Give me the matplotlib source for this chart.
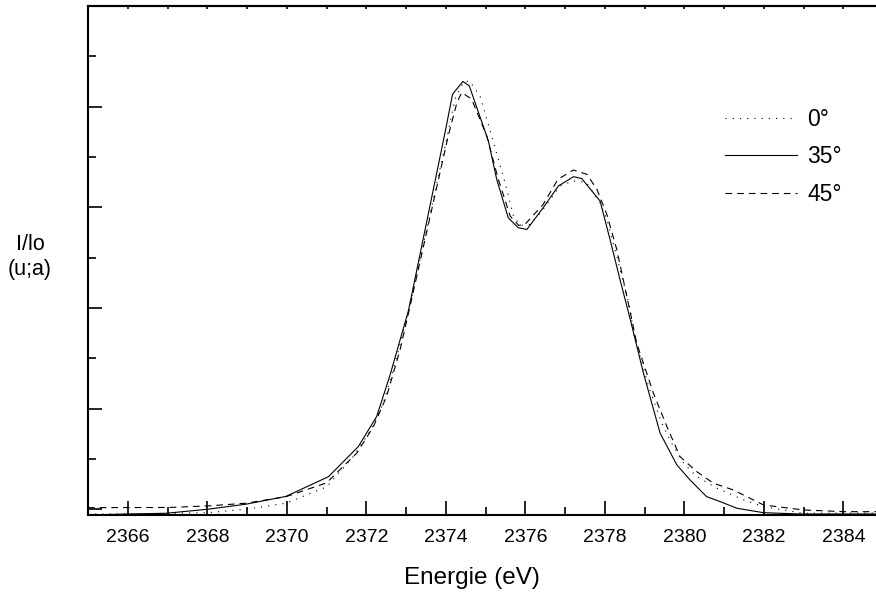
import matplotlib
matplotlib.use("Agg")
import matplotlib.pyplot as plt
from matplotlib.ticker import MultipleLocator, NullFormatter

plt.rcParams['font.family'] = ['Liberation Sans', 'DejaVu Sans']

# 35 deg (solid)
e35 = [2365.00, 2366.01, 2366.96, 2368.01, 2368.97, 2369.98, 2371.05, 2371.80, 2372.26,
       2372.60, 2373.06, 2373.98, 2374.17, 2374.43, 2374.59, 2375.07, 2375.28, 2375.57,
       2375.82, 2376.04, 2376.45, 2376.83, 2377.21, 2377.42, 2377.88, 2378.13, 2378.38,
       2378.64, 2378.97, 2379.39, 2379.81, 2380.14, 2380.56, 2380.90, 2381.32, 2381.99,
       2382.91, 2384.82]
i35 = [-0.055, -0.045, -0.038, 0.002, 0.052, 0.130, 0.326, 0.625, 0.923,
       1.338, 1.975, 3.743, 4.124, 4.251, 4.207, 3.660, 3.279, 2.897,
       2.798, 2.781, 2.997, 3.212, 3.305, 3.286, 3.063, 2.682, 2.284,
       1.886, 1.355, 0.758, 0.443, 0.294, 0.127, 0.078, 0.012, -0.032,
       -0.045, -0.045]

# 0 deg (dotted)
e0 = [2365.00, 2366.01, 2368.01, 2368.97, 2369.98, 2371.00, 2371.67, 2372.09, 2372.43,
      2372.77, 2373.10, 2374.02, 2374.23, 2374.44, 2374.59, 2374.86, 2375.20, 2375.49,
      2375.70, 2375.87, 2376.12, 2376.45, 2376.87, 2377.20, 2377.53, 2377.88, 2378.05,
      2378.30, 2378.64, 2378.72, 2379.10, 2379.43, 2379.68, 2379.98, 2380.31, 2380.82,
      2381.49, 2381.99, 2383.00, 2384.82]
i0 = [-0.045, -0.045, -0.032, 0.002, 0.062, 0.224, 0.525, 0.774, 1.057,
      1.520, 2.035, 3.677, 4.075, 4.241, 4.257, 4.107, 3.644, 3.246,
      2.913, 2.821, 2.831, 2.980, 3.212, 3.262, 3.249, 3.047, 2.881,
      2.515, 1.985, 1.753, 1.222, 0.858, 0.659, 0.460, 0.326, 0.211,
      0.095, 0.028, -0.038, -0.035]

# 45 deg (dashed)
e45 = [2365.00, 2367.06, 2368.01, 2368.97, 2369.98, 2371.00, 2371.76, 2372.18, 2372.51,
       2372.85, 2373.10, 2374.06, 2374.28, 2374.40, 2374.65, 2375.03, 2375.32, 2375.62,
       2375.83, 2375.99, 2376.45, 2376.82, 2377.21, 2377.55, 2377.80, 2378.05, 2378.30,
       2378.64, 2378.80, 2379.22, 2379.56, 2379.89, 2380.31, 2380.73, 2381.23, 2381.99,
       2383.00, 2384.00, 2384.82]
i45 = [0.018, 0.020, 0.035, 0.062, 0.127, 0.264, 0.559, 0.824, 1.122,
       1.587, 2.018, 3.709, 4.042, 4.141, 4.075, 3.709, 3.279, 2.913,
       2.821, 2.831, 3.030, 3.279, 3.371, 3.328, 3.179, 2.930, 2.582,
       1.955, 1.654, 1.156, 0.824, 0.525, 0.376, 0.261, 0.194, 0.045,
       -0.005, -0.022, -0.022]

labels = ["0°", "35°", "45°"]
xticks = [2366, 2368, 2370, 2372, 2374, 2376, 2378, 2380, 2382, 2384]

fig = plt.figure(figsize=(8.76, 5.92), dpi=100)
ax = fig.add_axes([88/876, 1-515/592, 1-88/876, (515-6)/592])

lw = 0.8
l0, = ax.plot(e0, i0, color='black', lw=lw, linestyle=(0, (1, 5.5)))
l35, = ax.plot(e35, i35, color='black', lw=lw, linestyle='-')
l45, = ax.plot(e45, i45, color='black', lw=lw, linestyle=(0, (6, 4.5)))

ax.set_xlim(2365, 2384.82)
ax.set_ylim(-0.055, 5.0)

ax.spines['right'].set_visible(False)
for s in ['left', 'bottom', 'top']:
    ax.spines[s].set_linewidth(1.5)

ax.set_xticks(xticks)
ax.xaxis.set_minor_locator(MultipleLocator(1))
ax.yaxis.set_major_locator(MultipleLocator(1))
ax.yaxis.set_minor_locator(MultipleLocator(0.5))
ax.yaxis.set_major_formatter(NullFormatter())
ax.tick_params(axis='both', which='major', direction='in', length=10, width=1.2,
               labelsize=14, pad=10)
ax.tick_params(axis='both', which='minor', direction='in', length=6, width=1.2)
ax.tick_params(axis='x', top=False)

sec = ax.secondary_xaxis('top')
sec.set_xticks(list(range(2365, 2385)))
sec.tick_params(direction='in', length=2, width=1.2, labeltop=False)
sec.spines['top'].set_linewidth(1.5)

ax.set_xlabel("Energie (eV)", fontsize=17.5)
ax.xaxis.set_label_coords(0.487, -0.124, transform=ax.transAxes)
ax.xaxis.label.set_va('center')
fig.text(30/876, 1-257/592, "I/lo\n(u;a)", ha='center', va='center', fontsize=15.5,
         linespacing=1.2)

ax.legend([l0, l35, l45], labels, loc='upper left', bbox_to_anchor=(0.808, 0.80),
          frameon=False, fontsize=16.5, handlelength=3.15, handletextpad=0.45,
          labelspacing=0.64, borderpad=0, borderaxespad=0)

fig.savefig("out.png", dpi=100)
